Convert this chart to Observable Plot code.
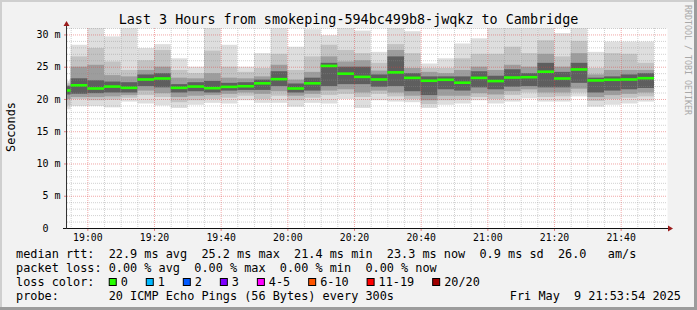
<!DOCTYPE html>
<html><head><meta charset="utf-8">
<script src="https://cdn.jsdelivr.net/npm/d3@7"></script>
<script src="https://cdn.jsdelivr.net/npm/@observablehq/plot@0.6"></script>
<style>
html,body{margin:0;padding:0;background:#fff;}
#chart{position:relative;width:697px;height:310px;background:#f2f2f2;overflow:hidden;font-family:"DejaVu Sans Mono",monospace;}
#chart svg{position:absolute;left:0;top:0;}
.b{position:absolute;}
</style></head>
<body><div id="chart"></div>
<script>
// ---------- data ----------
const day = "2025-05-09";
const windowStart = "18:53:54", windowEnd = "21:53:54";
const binStarts = ["18:50","18:55","19:00","19:05","19:10","19:15","19:20","19:25","19:30","19:35","19:40","19:45",
  "19:50","19:55","20:00","20:05","20:10","20:15","20:20","20:25","20:30","20:35","20:40","20:45",
  "20:50","20:55","21:00","21:05","21:10","21:15","21:20","21:25","21:30","21:35","21:40","21:45"];
const medianMs = [21.4,22.2,21.7,22.0,21.8,23.1,23.25,21.8,22.0,21.75,21.95,22.05,
  22.5,23.15,21.7,22.5,25.2,24.0,23.5,23.1,24.2,23.35,22.9,23.05,
  22.6,23.35,22.85,23.4,23.45,24.3,23.25,24.65,22.95,23.05,23.1,23.3];
const maxMs = [22.8,28.4,31.0,29.7,31.0,27.9,28.5,26.3,25.0,31.0,28.4,25.0,
  27.1,31.0,28.1,30.8,29.9,31.0,30.6,27.3,31.0,30.5,25.5,26.3,
  28.6,29.4,31.0,31.0,31.0,31.0,30.2,31.0,27.3,28.9,28.9,28.9];
const minMs = [18.4,18.9,18.9,18.7,19.6,19.3,19.0,18.6,19.1,19.4,19.3,19.8,
  19.4,19.4,18.8,19.4,19.3,20.0,18.6,19.8,19.6,19.5,18.6,19.1,
  19.3,19.8,19.3,19.6,20.1,19.6,19.6,20.4,18.8,19.1,19.3,19.6];
const band2Hi = [22.5,26.6,27.9,25.8,24.5,26.0,27.6,24.5,24.0,27.5,25.0,24.2,
  24.8,27.0,24.5,26.6,28.4,27.6,27.1,25.6,28.5,27.1,24.8,24.8,
  26.3,27.0,27.0,28.1,27.1,29.1,26.6,29.0,24.8,27.1,27.0,25.6];
const band2Lo = [19.0,20.0,19.8,19.9,20.2,20.6,20.3,19.5,19.8,20.0,20.2,20.5,
  20.0,20.5,19.8,20.2,20.6,20.8,20.3,20.8,20.4,20.0,19.2,19.8,
  19.9,20.3,20.0,20.6,21.0,20.3,20.4,21.0,19.7,20.0,20.2,20.4];
const band3Hi = [22.2,25.0,25.3,23.7,23.5,24.5,25.0,23.3,23.2,24.0,23.3,23.2,
  23.5,25.3,23.0,24.2,26.6,25.8,26.0,24.4,27.6,24.8,24.2,24.0,
  24.5,25.0,24.5,25.3,25.0,27.0,25.0,27.1,23.8,24.5,24.5,24.5];
const band3Lo = [20.0,20.3,20.3,20.4,20.6,21.3,20.9,20.3,20.5,20.6,20.8,21.0,
  20.8,21.2,20.5,20.8,21.3,21.5,21.0,21.3,21.0,20.5,19.8,20.5,
  20.5,20.9,20.7,21.2,21.5,21.0,21.0,21.6,20.3,20.6,20.8,21.0];
const band4Hi = [22.0,23.2,22.9,22.7,22.6,23.8,24.0,22.3,22.6,22.8,22.5,22.6,
  23.0,24.3,22.4,23.3,25.6,25.0,25.0,23.8,26.6,24.0,23.5,23.5,
  23.5,24.3,23.6,24.6,24.0,25.6,24.2,25.6,23.3,23.5,23.8,24.0];
const band4Lo = [20.7,20.8,20.9,21.0,21.0,22.0,21.8,21.0,21.2,21.0,21.3,21.4,
  21.4,22.0,21.0,21.3,22.0,22.3,22.3,21.9,22.0,21.2,20.6,21.5,
  21.3,21.8,21.5,21.9,22.0,21.8,21.8,22.5,21.0,21.3,21.5,21.7];
const smokeColors = ["#dedede","#c3c3c3","#9d9d9d","#5e5e5e"];
const yTicks = [0,5,10,15,20,25,30];
const xTickLabels = ["19:00","19:20","19:40","20:00","20:20","20:40","21:00","21:20","21:40"];
const lossLabels = ["0","1","2","3","4-5","6-10","11-19","20/20"];
const lossColors = ["#26ff00","#00b8ff","#0059ff","#7e00ff","#ff00ff","#ff5500","#ff0000","#a10000"];
const titleText = "Last 3 Hours from smokeping-594bc499b8-jwqkz to Cambridge";
const yLabel = "Seconds";
const rttStats = ["22.9 ms avg","25.2 ms max","21.4 ms min","23.3 ms now","0.9 ms sd","26.0   am/s"];
const lossStats = ["0.00 % avg","0.00 % max","0.00 % min","0.00 % now"];
const probeText = "20 ICMP Echo Pings (56 Bytes) every 300s";
const dateText = "Fri May  9 21:53:54 2025";
const credit = "RRDTOOL / TOBI OETIKER";

// ---------- build ----------
const toDate = hm => new Date(`${day}T${hm.length === 5 ? hm + ":00" : hm}Z`);
const t0 = toDate(windowStart), t1 = toDate(windowEnd);
const bars = binStarts.map((s, i) => ({
  x1: toDate(s), x2: d3.utcMinute.offset(toDate(s), 5),
  med: medianMs[i], hi1: maxMs[i], lo1: minMs[i],
  hi2: band2Hi[i], lo2: band2Lo[i], hi3: band3Hi[i], lo3: band3Lo[i], hi4: band4Hi[i], lo4: band4Lo[i]
}));
const majorX = xTickLabels.map(toDate);
const minorX = d3.utcMinute.every(5).range(t0, t1).filter(d => d.getUTCMinutes() % 20 !== 0);
const majorY = yTicks.filter(v => v > 0);
const minorY = d3.range(1, 32).filter(v => v % 5 !== 0);
const mono = "'DejaVu Sans Mono', monospace";

const smoke = [1,2,3,4].map(k => Plot.rect(bars, {
  x1: "x1", x2: "x2", y1: "lo" + k, y2: "hi" + k, fill: smokeColors[k - 1], clip: true
}));

const plot = Plot.plot({
  width: 697, height: 245,
  marginLeft: 67, marginRight: 30, marginTop: 28, marginBottom: 17,
  style: {background: "transparent", fontFamily: mono, color: "#000", overflow: "visible"},
  x: {type: "utc", domain: [t0, t1]},
  y: {domain: [0, 31]},
  marks: [
    Plot.frame({fill: "white", stroke: "none"}),
    ...smoke,
    Plot.gridY(minorY, {stroke: "#8c8c8c", strokeOpacity: 0.4, strokeDasharray: "1,1"}),
    Plot.gridX(minorX, {stroke: "#8c8c8c", strokeOpacity: 0.4, strokeDasharray: "1,1"}),
    Plot.gridY(majorY, {stroke: "#e03c3c", strokeOpacity: 0.45, strokeDasharray: "1,1"}),
    Plot.gridX(majorX, {stroke: "#e03c3c", strokeOpacity: 0.45, strokeDasharray: "1,1"}),
    Plot.ruleY(bars, {x1: "x1", x2: "x2", y: "med", stroke: lossColors[0], strokeWidth: 2.6, clip: true}),
    Plot.axisX(majorX, {tickFormat: d3.utcFormat("%H:%M"), tickSize: 3, tickPadding: 3, stroke: "#e08080", fill: "#000", fontSize: 9.8, label: null}),
    Plot.axisY(yTicks, {tickFormat: d => d === 0 ? "0\u00a0\u00a0" : d + " m", tickSize: 3, tickPadding: 4, stroke: "#e08080", fill: "#000", fontSize: 10, label: null})
  ]
});
const chart = document.getElementById("chart");
chart.appendChild(plot);

// axis lines and arrows, placed with the plot's scales
const sx = plot.scale("x"), sy = plot.scale("y");
const svg = d3.select(plot);
const xL = sx.apply(t0), xR = sx.apply(t1), yB = sy.apply(0), yT = sy.apply(31);
svg.append("line").attr("x1", xL - 4).attr("x2", xR + 1).attr("y1", yB + 0.5).attr("y2", yB + 0.5).attr("stroke", "#111");
svg.append("line").attr("x1", xL - 0.5).attr("x2", xL - 0.5).attr("y1", yB + 1).attr("y2", yT - 4).attr("stroke", "#333");
svg.append("path").attr("d", `M${xR + 1},${yB - 2.5}L${xR + 6},${yB + 0.5}L${xR + 1},${yB + 3.5}Z`).attr("fill", "#9b1c1c");
svg.append("path").attr("d", `M${xL - 3.5},${yT - 2}L${xL - 0.5},${yT - 7}L${xL + 2.5},${yT - 2}Z`).attr("fill", "#9b1c1c");

// ---------- title, labels and legend ----------
const ov = d3.select(chart).append("svg").attr("width", 697).attr("height", 310)
  .style("font-family", mono).style("pointer-events", "none");
function txt(x, y, s, size, anchor = "start", extra = {}) {
  const t = ov.append("text").attr("x", x).attr("y", y).attr("font-size", size)
    .attr("text-anchor", anchor).style("white-space", "pre").attr("fill", extra.fill || "#000").text(s);
  if (extra.transform) t.attr("transform", extra.transform).attr("x", 0).attr("y", 0);
  return t;
}
const fs = 11.85, cw = fs * 0.602, lx = 16;
txt(348.5, 24, titleText, 13.4, "middle");
txt(0, 0, yLabel, fs, "middle", {transform: "translate(14.5,127) rotate(-90)"});
txt(0, 0, credit, 8.3, "start", {transform: "translate(685,5) rotate(90)", fill: "#a8a8a8"});
txt(lx, 258, "median rtt:  " + rttStats.join("  "), fs);
txt(lx, 272, "packet loss: " + lossStats.join("  "), fs);
txt(lx, 286, "loss color:", fs);
let bx = lx + 13 * cw;
lossLabels.forEach((lab, i) => {
  ov.append("rect").attr("x", bx + 0.5).attr("y", 278.5).attr("width", 7).attr("height", 7)
    .attr("fill", lossColors[i]).attr("stroke", "#000").attr("stroke-width", 1);
  txt(bx + 12, 286, lab, fs);
  bx += 12 + lab.length * cw + 17.9;
});
txt(lx, 300, "probe:       " + probeText, fs);
txt(681, 300, dateText, fs, "end");

// frame border (3D shade)
[["left:0;top:0;width:697px;height:2px;background:#cfcfcf"],
 ["left:0;top:0;width:2px;height:310px;background:#cfcfcf"],
 ["right:0;top:0;width:3px;height:310px;background:#9c9c9c"],
 ["left:0;bottom:0;width:697px;height:3px;background:#9c9c9c"]].forEach(([css]) => {
  const d = document.createElement("div"); d.className = "b"; d.style.cssText = css; chart.appendChild(d);
});
</script></body></html>
